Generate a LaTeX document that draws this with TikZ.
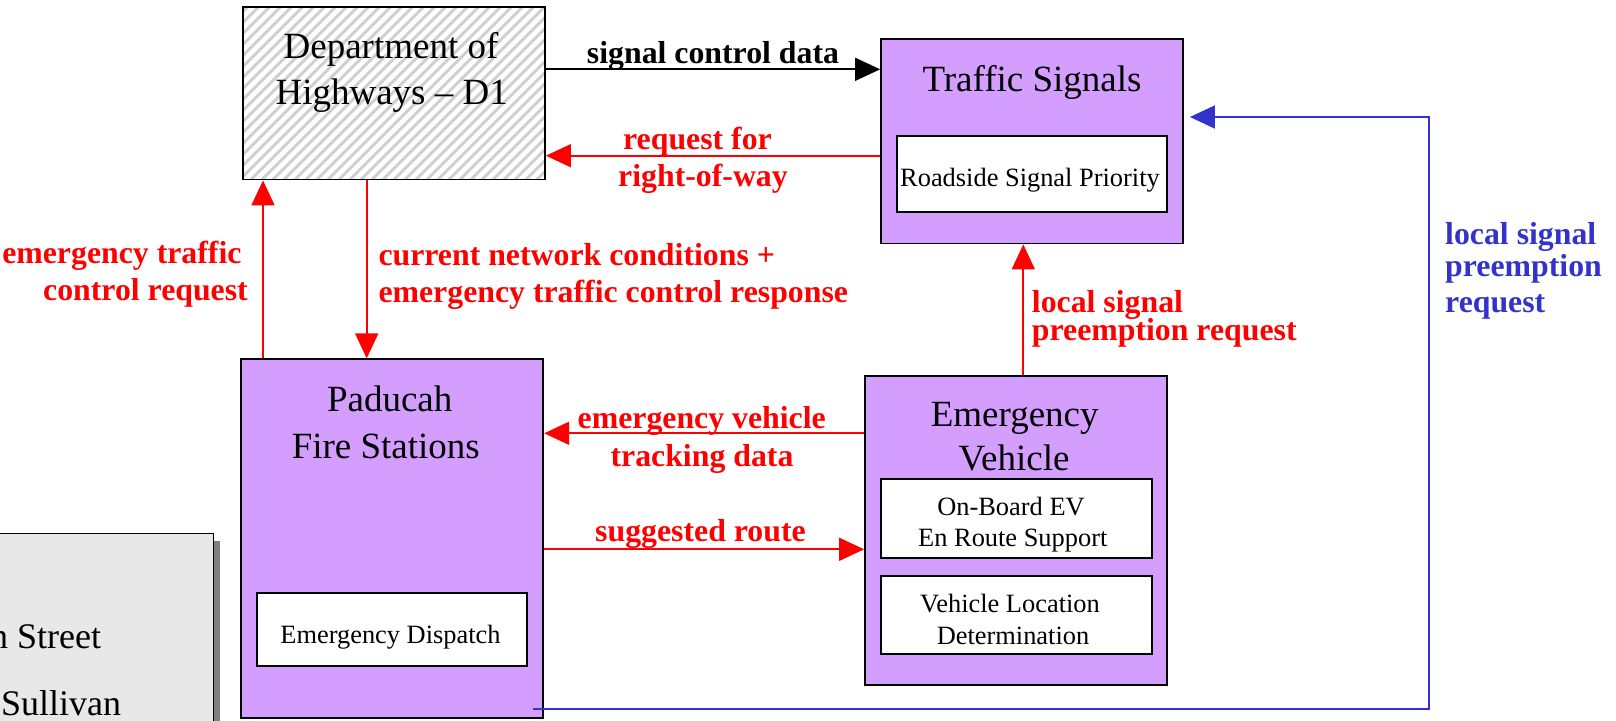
\documentclass[tikz,border=0pt]{standalone}
\usepackage{fontspec}
\setmainfont{Liberation Serif}
\usetikzlibrary{arrows.meta}
\definecolor{purp}{RGB}{212,158,255}
\definecolor{bluec}{RGB}{51,51,204}
\definecolor{legfill}{RGB}{232,232,232}
\definecolor{shadowgray}{RGB}{128,128,128}
\definecolor{hatchgray}{RGB}{208,208,208}
\begin{document}
\begin{tikzpicture}[x=1pt,y=-1pt,
  sysbox/.style={draw=black, line width=1.8pt, fill=purp, inner sep=0pt},
  subbox/.style={draw=black, line width=1.8pt, fill=white, inner sep=0pt},
  title/.style={font=\fontsize{37}{44}\selectfont, inner sep=0pt, anchor=base},
  subtxt/.style={font=\fontsize{26.4}{31}\selectfont, inner sep=0pt, anchor=base},
  lbl/.style={font=\fontsize{31.8}{38}\selectfont\bfseries, text=red, inner sep=0pt, anchor=base},
  leg/.style={font=\fontsize{36}{44}\selectfont, inner sep=0pt, anchor=base west},
  conn/.style={line width=1.7pt, -{Triangle[length=25pt,width=23pt]}},
  redconn/.style={conn, draw=red},
  blueconn/.style={conn, draw=bluec}]
\useasboundingbox (0,0) rectangle (1616,720);
\clip (0,0) rectangle (1616,720);

% legend (cut off at the page edge)
\node[fill=shadowgray, inner sep=0pt, minimum width=223.3pt, minimum height=200pt] (legshadow) at (108.65,641) {};
\node[draw=black, line width=1.5pt, fill=legfill, inner sep=0pt, minimum width=223.3pt, minimum height=207pt] (legend) at (101.65,636.8) {};
\node[leg] (legA) at (-10,648) {n Street};
\node[leg] (legB) at (1,715) {Sullivan};

% Department of Highways
\node[draw=black, line width=1.8pt, fill=white, inner sep=0pt,
      minimum width=302pt, minimum height=172.5pt,
      path picture={\foreach \k in {0,11,...,500}
        \draw[hatchgray, line width=3pt]
          ([xshift={(\k-190)*1pt}]path picture bounding box.south west) -- ++(220pt,220pt);}]
      (doh) at (394,93.25) {};
\node[title] (dohA) at (391,58.3) {Department of};
\node[title] (dohB) at (391.7,104) {Highways -- D1};

% Traffic Signals
\node[sysbox, minimum width=302pt, minimum height=204.5pt] (ts) at (1032,141.25) {};
\node[subbox, minimum width=270pt, minimum height=75.7pt] (rsp) at (1032,173.85) {};
\node[title] (tsT) at (1032,91) {Traffic Signals};
\node[subtxt] (rspT) at (1030,186.7) {Roadside Signal Priority};

% Paducah Fire Stations
\node[sysbox, minimum width=302.3pt, minimum height=358.4pt] (fs) at (392.15,538.5) {};
\node[subbox, minimum width=270.6pt, minimum height=72.4pt] (ed) at (392,629.5) {};
\node[title] (fsA) at (389.7,411.7) {Paducah};
\node[title] (fsB) at (385.8,458) {Fire Stations};
\node[subtxt] (edT) at (390.5,643.3) {Emergency Dispatch};

% Emergency Vehicle
\node[sysbox, minimum width=302.3pt, minimum height=309.3pt] (ev) at (1016.15,530.35) {};
\node[subbox, minimum width=271pt, minimum height=78.4pt] (ob) at (1016.2,518.5) {};
\node[subbox, minimum width=271pt, minimum height=78.3pt] (vl) at (1016.2,614.85) {};
\node[title] (evA) at (1014.7,426) {Emergency};
\node[title] (evB) at (1014,470) {Vehicle};
\node[subtxt] (obA) at (1011,515) {On-Board EV};
\node[subtxt] (obB) at (1012.8,546) {En Route Support};
\node[subtxt] (vlA) at (1010,612.7) {Vehicle Location};
\node[subtxt] (vlB) at (1013,644) {Determination};

% row / column coordinates
\coordinate (r1) at (0,69.3);
\coordinate (r2) at (0,155.7);
\coordinate (c1) at (263,0);
\coordinate (c2) at (366.7,0);
\coordinate (c3) at (1023.3,0);
\coordinate (r3) at (0,433.3);
\coordinate (r4) at (0,549.3);
\coordinate (rb) at (0,709.3);
\coordinate (bc) at (1429.3,117);

% connectors
\draw[conn, draw=black] (doh.east |- r1) -- (ts.west |- r1);
\draw[redconn] (ts.west |- r2) -- (doh.east |- r2);
\draw[redconn] (fs.north -| c1) -- (doh.south -| c1);
\draw[redconn] (doh.south -| c2) -- (fs.north -| c2);
\draw[redconn] (ev.north -| c3) -- (ts.south -| c3);
\draw[redconn] (ev.west |- r3) -- (fs.east |- r3);
\draw[redconn] (fs.east |- r4) -- (ev.west |- r4);
\draw[blueconn] ([xshift=-11pt]fs.east |- rb) -| (bc) -- ([xshift=6pt]ts.east |- bc);

% labels
\node[lbl, text=black] (l1) at (713,63.3) {signal control data};
\node[lbl] (l2a) at (697.5,149) {request for};
\node[lbl] (l2b) at (703,186.5) {right-of-way};
\node[lbl, anchor=base east] (l3a) at (241.7,263.3) {emergency traffic};
\node[lbl, anchor=base east] (l3b) at (248,300) {control request};
\node[lbl, anchor=base west] (l4a) at (378.3,265) {current network conditions +};
\node[lbl, anchor=base west] (l4b) at (378.3,302.7) {emergency traffic control response};
\node[lbl, anchor=base west] (l5a) at (1031.7,312.5) {local signal};
\node[lbl, anchor=base west] (l5b) at (1031.7,340) {preemption request};
\node[lbl] (l6a) at (701.7,428.3) {emergency vehicle};
\node[lbl] (l6b) at (702,466) {tracking data};
\node[lbl] (l7) at (700.5,541.7) {suggested route};
\node[lbl, text=bluec, anchor=base west] (l8a) at (1445,244) {local signal};
\node[lbl, text=bluec, anchor=base west] (l8b) at (1445,276) {preemption};
\node[lbl, text=bluec, anchor=base west] (l8c) at (1445,312) {request};
\end{tikzpicture}
\end{document}
